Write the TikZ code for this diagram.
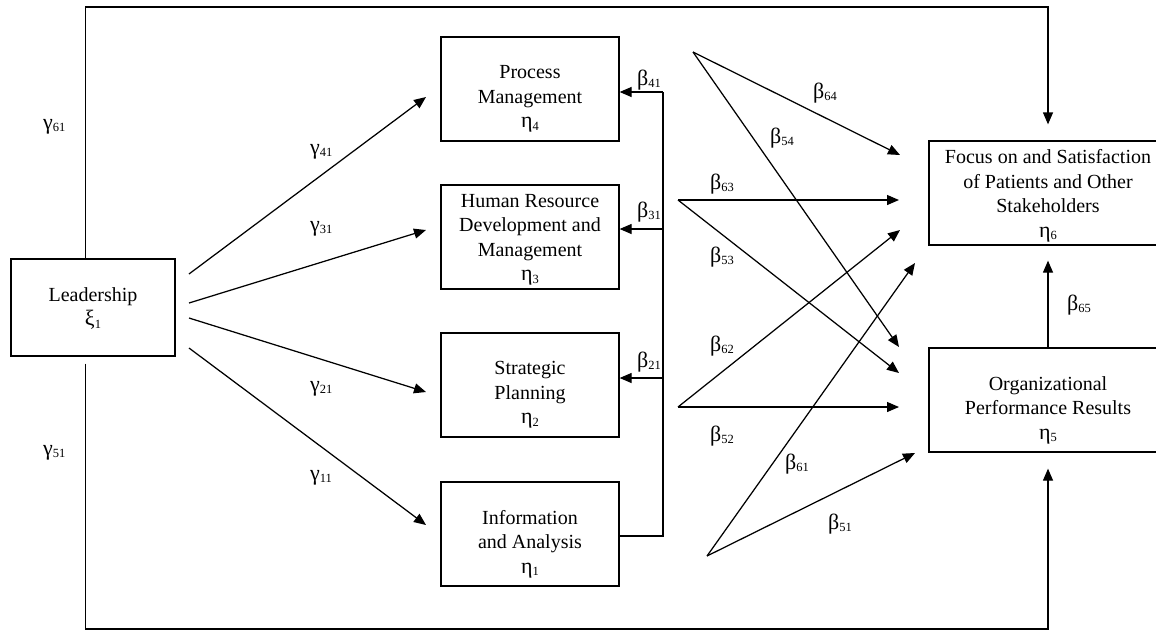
\documentclass[tikz,border=0pt]{standalone}
\usepackage{fontspec}
\setmainfont{Liberation Serif}
\usetikzlibrary{arrows.meta}
\newcommand\lsub[1]{\raisebox{-2.5pt}{\fontsize{12.5}{12.5}\selectfont #1}}
\newcommand\gk[1]{{\fontsize{22}{22}\selectfont #1}}
\tikzset{
  box/.style={draw, line width=1.25pt, inner sep=0pt},
  txt/.style={align=center, inner sep=0pt, font=\fontsize{20}{24.5}\selectfont},
  lbl/.style={inner sep=0pt, anchor=base west, font=\fontsize{20}{24}\selectfont},
  ln/.style={line width=1.25pt},
  arr/.style={line width=1.25pt, -{Triangle[length=12pt,width=10pt]}}
}
\begin{document}
\begin{tikzpicture}[x=1pt,y=-1pt]
\useasboundingbox (0,0) rectangle (1156,630);
\clip (0,0) rectangle (1156,630);
% boxes
\node[box, minimum width=164pt, minimum height=97pt] (lead) at (93,307.5) {};
\node[box, minimum width=178pt, minimum height=104pt] (proc) at (530,89) {};
\node[box, minimum width=178pt, minimum height=104pt] (hr) at (530,237) {};
\node[box, minimum width=178pt, minimum height=104pt] (strat) at (530,385) {};
\node[box, minimum width=178pt, minimum height=104pt] (info) at (530,534) {};
\node[box, minimum width=238pt, minimum height=104pt] (focus) at (1048,193) {};
\node[box, minimum width=238pt, minimum height=104pt] (org) at (1048,400) {};
% box texts
\node[txt] (leadT) at ([yshift=-1pt]lead.center) {Leadership\\\gk{ξ}\lsub{1}};
\node[txt] (procT) at ([yshift=-10pt]proc.center) {Process\\Management\\\gk{η}\lsub{4}};
\node[txt] (hrT) at ([yshift=-3pt]hr.center) {Human Resource\\Development and\\Management\\\gk{η}\lsub{3}};
\node[txt] (stratT) at ([yshift=-10pt]strat.center) {Strategic\\Planning\\\gk{η}\lsub{2}};
\node[txt] (infoT) at ([yshift=-10pt]info.center) {Information\\and Analysis\\\gk{η}\lsub{1}};
\node[txt] (focusT) at ([yshift=-3pt]focus.center) {Focus on and Satisfaction\\of Patients and Other\\Stakeholders\\\gk{η}\lsub{6}};
\node[txt] (orgT) at ([yshift=-10pt]org.center) {Organizational\\Performance Results\\\gk{η}\lsub{5}};
% outer loops
\draw[arr] ([xshift=75pt]lead.north west) |- (1048,7) -- ([yshift=16pt]focus.north);
\draw[arr] ([xshift=75pt,yshift=-7pt]lead.south west) |- (1048,629) -- ([yshift=-16pt]org.south);
\draw[arr] (org.north) -- ([yshift=-15pt]focus.south);
% gamma arrows
\coordinate (s4) at (189,274); \coordinate (e4) at (426,97);
\coordinate (s3) at (189,303); \coordinate (e3) at (426,230);
\coordinate (s2) at (189,318); \coordinate (e2) at (426,392);
\coordinate (s1) at (189,348); \coordinate (e1) at (426,525);
\draw[arr] (s4) -- (e4);
\draw[arr] (s3) -- (e3);
\draw[arr] (s2) -- (e2);
\draw[arr] (s1) -- (e1);
% feedback from info
\coordinate (fb4) at (663,92);
\coordinate (fb3) at (663,229);
\coordinate (fb2) at (663,378);
\draw[ln] ([yshift=-2pt]info.east) -| (fb4);
\draw[arr] (fb4) -- (fb4 -| proc.east);
\draw[arr] (fb3) -- (fb3 -| hr.east);
\draw[arr] (fb2) -- (fb2 -| strat.east);
% crossing arrows
\coordinate (a4) at (693,52);
\coordinate (a3) at (678,200);
\coordinate (a2) at (678,407);
\coordinate (a1) at (707,556);
\coordinate (t64) at (900,155);
\coordinate (t54) at (899,347);
\coordinate (t63) at (899,200);
\coordinate (t53) at (899,373);
\coordinate (t62) at (900,230);
\coordinate (t52) at (899,407);
\coordinate (t61) at (915,263);
\coordinate (t51) at (915,453);
\draw[arr] (a4) -- (t64);
\draw[arr] (a4) -- (t54);
\draw[arr] (a3) -- (t63);
\draw[arr] (a3) -- (t53);
\draw[arr] (a2) -- (t62);
\draw[arr] (a2) -- (t52);
\draw[arr] (a1) -- (t61);
\draw[arr] (a1) -- (t51);
% labels
\node[lbl] (g61) at (43,129) {\gk{γ}\lsub{61}};
\node[lbl] (g51) at (43,455) {\gk{γ}\lsub{51}};
\node[lbl] (g41) at (310,154) {\gk{γ}\lsub{41}};
\node[lbl] (g31) at (310,231) {\gk{γ}\lsub{31}};
\node[lbl] (g21) at (310,391) {\gk{γ}\lsub{21}};
\node[lbl] (g11) at (310,480) {\gk{γ}\lsub{11}};
\node[lbl] (b41) at (637,85) {\gk{β}\lsub{41}};
\node[lbl] (b31) at (637,217) {\gk{β}\lsub{31}};
\node[lbl] (b21) at (637,367) {\gk{β}\lsub{21}};
\node[lbl] (b64) at (813,98) {\gk{β}\lsub{64}};
\node[lbl] (b54) at (770,143) {\gk{β}\lsub{54}};
\node[lbl] (b63) at (710,189) {\gk{β}\lsub{63}};
\node[lbl] (b53) at (710,262) {\gk{β}\lsub{53}};
\node[lbl] (b62) at (710,351) {\gk{β}\lsub{62}};
\node[lbl] (b52) at (710,441) {\gk{β}\lsub{52}};
\node[lbl] (b61) at (785,469) {\gk{β}\lsub{61}};
\node[lbl] (b51) at (828,529) {\gk{β}\lsub{51}};
\node[lbl] (b65) at (1067,310) {\gk{β}\lsub{65}};
\end{tikzpicture}
\end{document}
